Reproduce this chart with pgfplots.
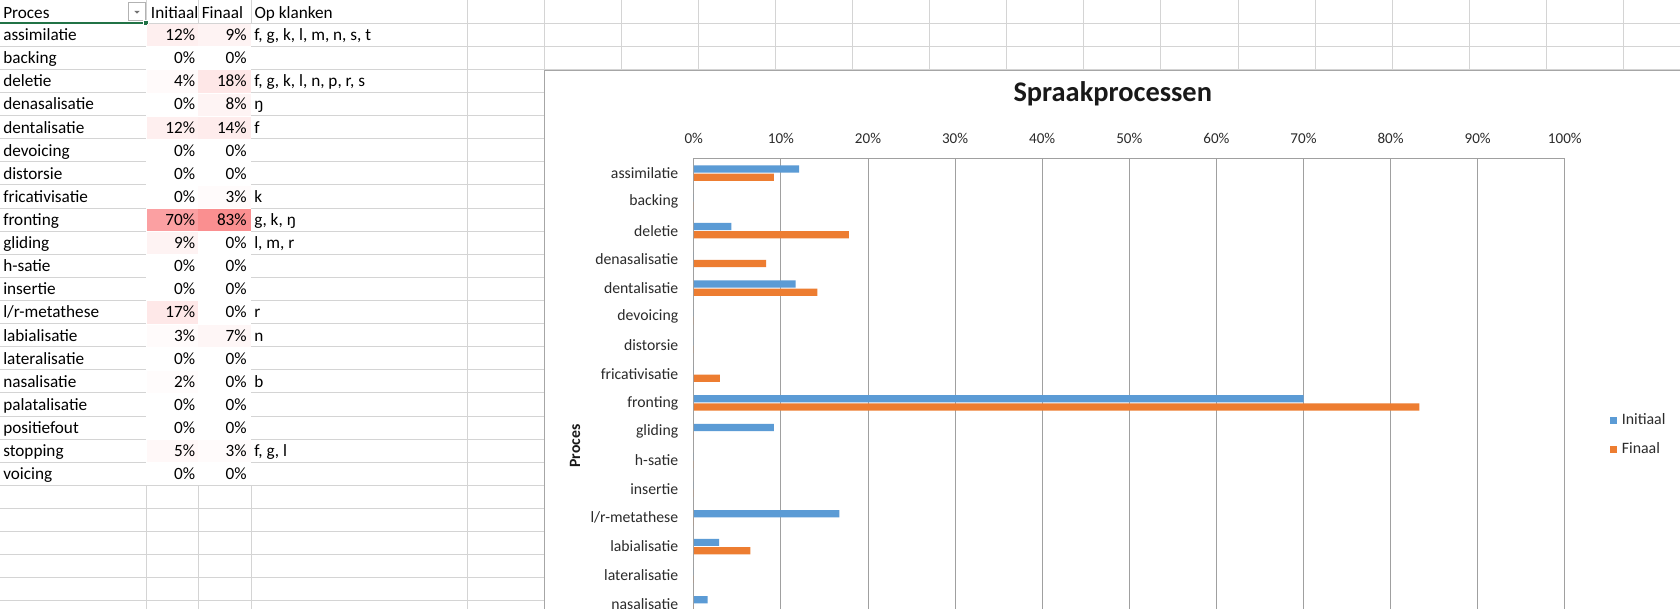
\documentclass[border=0pt]{standalone}
\usepackage{fontspec}
\setmainfont{Carlito}
\usepackage{pgfplots}
\pgfplotsset{compat=1.18}
\definecolor{barblue}{HTML}{5B9BD5}
\definecolor{barorange}{HTML}{ED7D31}
\definecolor{cf}{HTML}{F8696B}
\definecolor{sgrid}{HTML}{D4D4D4}
\definecolor{cgrid}{HTML}{A0A0A0}
\definecolor{cborder}{HTML}{A6A6A6}
\definecolor{xlgreen}{HTML}{217346}
\definecolor{ctext}{HTML}{2B2B2B}

\newcommand\tfont{\fontsize{12.9}{15}\selectfont}

\newcommand\trow[5]{%
  \pgfmathsetmacro\yt{23.3+23.1*(#1-1)}%
  \pgfmathsetmacro\yb{23.3+23.1*#1}%
  \pgfmathsetmacro\ybase{\yb-5.7}%
  \pgfmathsetmacro\ci{0.9*#3}%
  \pgfmathsetmacro\cff{0.9*#4}%
  \fill[cf!\ci!white] (146.5,\yt+1) rectangle (198.2,\yb);
  \fill[cf!\cff!white] (198.2,\yt+1) rectangle (250.5,\yb);
  \node[anchor=base west] at (3,\ybase) {#2};
  \node[anchor=base east] at (195.4,\ybase) {#3\%};
  \node[anchor=base east] at (247,\ybase) {#4\%};
  \node[anchor=base west] at (254,\ybase) {#5};
}

\begin{document}
\begin{tikzpicture}
\path[use as bounding box] (0pt,0pt) rectangle (1260pt,-456.75pt);
\clip (0pt,0pt) rectangle (1260pt,-456.75pt);
\begin{scope}[x=0.75pt, y=-0.75pt, every node/.style={inner sep=0pt, font=\tfont}]
  % spreadsheet gridlines
  \foreach \k in {1,...,19} {
    \pgfmathsetmacro\yy{23.3+23.1*\k}
    \draw[sgrid, line width=0.75pt] (0,\yy) -- (146,\yy);
    \draw[sgrid, line width=0.75pt] (251,\yy) -- (544.6,\yy);
  }
  \draw[sgrid, line width=0.75pt] (146,23.3) -- (1680,23.3);
  \draw[sgrid, line width=0.75pt] (544.6,46.4) -- (1680,46.4);
  \draw[sgrid, line width=0.75pt] (544.6,69.5) -- (1680,69.5);
  \foreach \k in {20,...,26} {
    \pgfmathsetmacro\yy{23.3+23.1*\k}
    \draw[sgrid, line width=0.75pt] (0,\yy) -- (544.6,\yy);
  }
  \foreach \xx in {146,198.2,251} {
    \draw[sgrid, line width=0.75pt] (\xx,0) -- (\xx,23.3);
    \draw[sgrid, line width=0.75pt] (\xx,485.3) -- (\xx,609);
  }
  \draw[sgrid, line width=0.75pt] (467,0) -- (467,609);
  \foreach \j in {0,...,15} {
    \pgfmathsetmacro\xx{544.1+77.1*\j}
    \draw[sgrid, line width=0.75pt] (\xx,0) -- (\xx,70.7);
  }
  % header
  \node[anchor=base west] at (3,18.3) {Proces};
  \node[anchor=base west] at (150.7,18.3) {Initiaal};
  \node[anchor=base west] at (201.5,18.3) {Finaal};
  \node[anchor=base west] at (254.3,18.3) {Op klanken};
  \draw[fill=white, draw=black!30, line width=0.75pt] (128.5,3) rectangle (145.5,21);
  \fill[black!55] (134.3,10.8) -- (139.7,10.8) -- (137,13.6) -- cycle;
  \draw[xlgreen, line width=1.5pt] (0,23.3) -- (146,23.3);
  \fill[xlgreen, draw=white, line width=0.75pt] (143.5,20.8) rectangle (148.5,25.8);
  % rows
  \trow{1}{assimilatie}{12}{9}{f, g, k, l, m, n, s, t}
  \trow{2}{backing}{0}{0}{}
  \trow{3}{deletie}{4}{18}{f, g, k, l, n, p, r, s}
  \trow{4}{denasalisatie}{0}{8}{ŋ}
  \trow{5}{dentalisatie}{12}{14}{f}
  \trow{6}{devoicing}{0}{0}{}
  \trow{7}{distorsie}{0}{0}{}
  \trow{8}{fricativisatie}{0}{3}{k}
  \trow{9}{fronting}{70}{83}{g, k, ŋ}
  \trow{10}{gliding}{9}{0}{l, m, r}
  \trow{11}{h-satie}{0}{0}{}
  \trow{12}{insertie}{0}{0}{}
  \trow{13}{l/r-metathese}{17}{0}{r}
  \trow{14}{labialisatie}{3}{7}{n}
  \trow{15}{lateralisatie}{0}{0}{}
  \trow{16}{nasalisatie}{2}{0}{b}
  \trow{17}{palatalisatie}{0}{0}{}
  \trow{18}{positiefout}{0}{0}{}
  \trow{19}{stopping}{5}{3}{f, g, l}
  \trow{20}{voicing}{0}{0}{}
  % chart area
  \fill[white] (544.6,70.7) rectangle (1750,800);
  \draw[cborder, line width=0.75pt] (544.6,800) -- (544.6,70.7) -- (1750,70.7);
\end{scope}

\begin{axis}[
  at={(520.35pt,-119.1pt)}, anchor=north west,
  scale only axis, width=653.25pt, height=430.8pt,
  xbar, bar width=5.4pt,
  xmin=0, xmax=100, ymin=-0.5, ymax=19.5, y dir=reverse,
  xtick={0,10,...,100}, ytick={0,...,19},
  yticklabels={assimilatie, backing, deletie, denasalisatie, dentalisatie, devoicing, distorsie, fricativisatie, fronting, gliding, h-satie, insertie, l/r-metathese, labialisatie, lateralisatie, nasalisatie, palatalisatie, positiefout, stopping, voicing},
  xticklabel={\pgfmathprintnumber{\tick}\%},
  xticklabel pos=upper,
  major tick length=0pt,
  xmajorgrids, grid style={cgrid, line width=0.75pt},
  axis line style={cgrid, line width=0.75pt},
  /pgf/number format/assume math mode=true,
  xticklabel style={font=\fontsize{11.3}{13}\selectfont, text=ctext, anchor=center, inner sep=0pt, yshift=15pt},
  yticklabel style={font=\fontsize{11.8}{14}\selectfont, text=ctext, anchor=east, inner sep=0pt, xshift=-11.5pt},
  title={Spraakprocessen},
  title style={at={(axis description cs:0.481,1.0994)}, anchor=center, font=\bfseries\fontsize{21.3}{25}\selectfont, text=black!90, inner sep=0pt},
  ylabel={Proces},
  ylabel style={at={(axis description cs:-0.1364,0.5)}, anchor=center, font=\bfseries\fontsize{11.8}{14}\selectfont, text=black!90, inner sep=0pt},
  legend style={at={(axis description cs:1.0517,0.519)}, anchor=west, draw=none, fill=none, inner sep=0pt, row sep=10.8pt, column sep=3.3pt, font=\fontsize{11.9}{14}\selectfont, text=ctext, nodes={inner sep=0pt, text height=8.5pt, text depth=2.3pt}},
  legend cell align=left,
]
\addplot[fill=barblue, draw=none, bar shift=3.1pt, legend image code/.code={\fill[barblue] (0pt,-2.8pt) rectangle (5.5pt,2.8pt);}] coordinates {
  (12.1,0) (0,1) (4.3,2) (0,3) (11.7,4) (0,5) (0,6) (0,7) (70.0,8) (9.2,9)
  (0,10) (0,11) (16.7,12) (2.9,13) (0,14) (1.6,15) (0,16) (0,17) (5,18) (0,19)};
\addplot[fill=barorange, draw=none, bar shift=-3.1pt, legend image code/.code={\fill[barorange] (0pt,-2.8pt) rectangle (5.5pt,2.8pt);}] coordinates {
  (9.2,0) (0,1) (17.8,2) (8.3,3) (14.2,4) (0,5) (0,6) (3.0,7) (83.3,8) (0,9)
  (0,10) (0,11) (0,12) (6.5,13) (0,14) (0,15) (0,16) (0,17) (3,18) (0,19)};
\legend{Initiaal, Finaal}
\end{axis}
\end{tikzpicture}
\end{document}
